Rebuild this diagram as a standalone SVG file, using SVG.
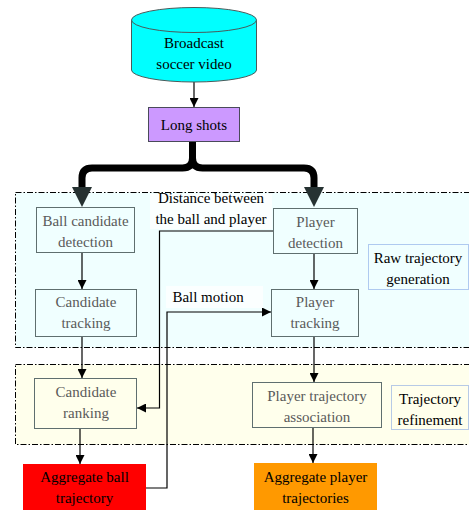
<svg xmlns="http://www.w3.org/2000/svg" width="469" height="510" viewBox="0 0 469 510" font-family="Liberation Serif, Times New Roman, serif">
<defs>
<marker id="ah" viewBox="0 0 10 10" refX="10" refY="5" markerWidth="9" markerHeight="9" markerUnits="userSpaceOnUse" orient="auto">
<path d="M0,0 L10,5 L0,10 Z" fill="#000"/>
</marker>
</defs>
<style>
text{font-family:'Liberation Serif','Times New Roman',serif;font-size:15px;text-anchor:middle;dominant-baseline:central}
.region{stroke:#000;stroke-width:1;stroke-dasharray:6 2 1.5 2}
.node{stroke:#5f6f6f;stroke-width:1}
.gt{fill:#5a5a5a}
.bt{fill:#000}
.lbl{fill:none;stroke:#6f95e0;stroke-width:1;stroke-dasharray:1 1}
.thin{fill:none;stroke:#000;stroke-width:1.2}
.thick{fill:none;stroke:#000;stroke-width:7}
</style>
<rect width="469" height="510" fill="#fff"/>
<g id="region-raw">
<rect class="region" x="15.5" y="192.5" width="460" height="155" fill="#F0FFFF"/>
</g>
<g id="region-refine">
<rect class="region" x="15.5" y="364.5" width="460" height="80" fill="#FFFFEC"/>
</g>
<g id="label-distance">
<rect x="150" y="194" width="122" height="35" fill="#fbffff"/>
<text class="bt" x="211" y="198">Distance between</text>
<text class="bt" x="211" y="219">the ball and player</text>
</g>
<g id="label-ballmotion">
<rect x="166" y="286" width="97" height="22" fill="#fbffff"/>
<text class="bt" x="208" y="297">Ball motion</text>
</g>
<g id="connectors">
<path class="thick" d="M192.5,141 V158 Q192.5,168 182.5,168 H92 Q82,168 82,178 V190"/>
<path class="thick" d="M192.5,158 Q192.5,168 202.5,168 H304 Q314,168 314,178 V190"/>
<polygon points="72,187 92,187 82,207" fill="#263232"/>
<polygon points="304,187 324,187 314,207" fill="#263232"/>
<line class="thin" x1="194" y1="82" x2="194" y2="107" marker-end="url(#ah)"/>
<line class="thin" x1="82" y1="252" x2="82" y2="289" marker-end="url(#ah)"/>
<line class="thin" x1="314" y1="253" x2="314" y2="289" marker-end="url(#ah)"/>
<line class="thin" x1="82" y1="337" x2="82" y2="378" marker-end="url(#ah)"/>
<line class="thin" x1="314" y1="336" x2="314" y2="382" marker-end="url(#ah)"/>
<line class="thin" x1="80" y1="428" x2="80" y2="464" marker-end="url(#ah)"/>
<line class="thin" x1="313" y1="427" x2="313" y2="463" marker-end="url(#ah)"/>
<path class="thin" d="M275,231 H159.5 V408 H137" marker-end="url(#ah)"/>
<path class="thin" d="M146,488 H167 V312 H271" marker-end="url(#ah)"/>
</g>
<g id="broadcast">
<path d="M131.5,20 V70 A62.5,12 0 0 0 256.5,70 V20" fill="#00FFFF" stroke="#4a5a5a" stroke-width="1"/>
<ellipse cx="194" cy="20" rx="62.5" ry="12.5" fill="#00FFFF" stroke="#4a5a5a" stroke-width="1"/>
<text class="bt" x="194" y="43">Broadcast</text>
<text class="bt" x="194" y="64">soccer video</text>
</g>
<g id="long-shots">
<rect x="148.5" y="107.5" width="91" height="34" fill="#CC99FF" stroke="#4a4a5a" stroke-width="1"/>
<text class="bt" x="194" y="125">Long shots</text>
</g>
<g id="ball-candidate-detection">
<rect class="node" x="36.5" y="207.5" width="98" height="45" fill="#F0FFFF"/>
<text class="gt" x="85.5" y="221">Ball candidate</text>
<text class="gt" x="85.5" y="242">detection</text>
</g>
<g id="candidate-tracking">
<rect class="node" x="35.5" y="289.5" width="101" height="47" fill="#F0FFFF"/>
<text class="gt" x="86" y="302">Candidate</text>
<text class="gt" x="86" y="323">tracking</text>
</g>
<g id="player-detection">
<rect class="node" x="273.5" y="208.5" width="84" height="45" fill="#F0FFFF"/>
<text class="gt" x="315.5" y="222">Player</text>
<text class="gt" x="315.5" y="243">detection</text>
</g>
<g id="player-tracking">
<rect class="node" x="271.5" y="289.5" width="87" height="47" fill="#F0FFFF"/>
<text class="gt" x="315" y="302">Player</text>
<text class="gt" x="315" y="323">tracking</text>
</g>
<g id="raw-label">
<rect class="lbl" x="368.5" y="244.5" width="100" height="45"/>
<text class="bt" x="418" y="258">Raw trajectory</text>
<text class="bt" x="418" y="279">generation</text>
</g>
<g id="candidate-ranking">
<rect class="node" x="34.5" y="378.5" width="102" height="50" fill="#FFFFEC"/>
<text class="gt" x="86" y="392">Candidate</text>
<text class="gt" x="86" y="413">ranking</text>
</g>
<g id="player-trajectory-association">
<rect class="node" x="252.5" y="382.5" width="129" height="45" fill="#FFFFEC"/>
<text class="gt" x="317" y="396">Player trajectory</text>
<text class="gt" x="317" y="417">association</text>
</g>
<g id="refine-label">
<rect class="lbl" x="391.5" y="385.5" width="77" height="44"/>
<text class="bt" x="430" y="399">Trajectory</text>
<text class="bt" x="430" y="420">refinement</text>
</g>
<g id="aggregate-ball">
<rect x="23" y="464" width="123" height="46" fill="#FF0000"/>
<text class="bt" x="84.5" y="477">Aggregate ball</text>
<text class="bt" x="84.5" y="498">trajectory</text>
</g>
<g id="aggregate-player">
<rect x="254" y="463" width="123" height="47" fill="#FF9900"/>
<text class="bt" x="315.5" y="477">Aggregate player</text>
<text class="bt" x="315.5" y="498">trajectories</text>
</g>
</svg>
